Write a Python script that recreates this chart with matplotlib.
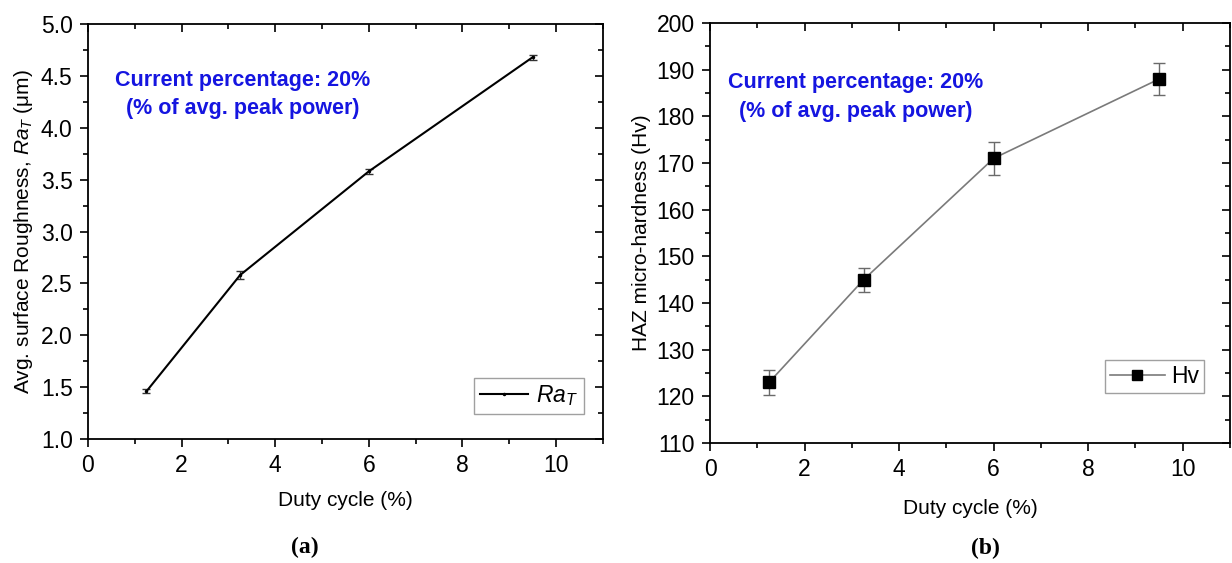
import matplotlib
matplotlib.use("Agg")
import matplotlib.pyplot as plt
from matplotlib.ticker import MultipleLocator, FormatStrFormatter
from matplotlib.lines import Line2D

plt.rcParams['font.family'] = ['Liberation Sans', 'DejaVu Sans']
plt.rcParams['mathtext.fontset'] = 'custom'
plt.rcParams['mathtext.rm'] = 'Liberation Sans'
plt.rcParams['mathtext.it'] = 'Liberation Sans:italic'

# data
duty = [1.25, 3.25, 6.0, 9.5]
ra = [1.46, 2.58, 3.58, 4.68]
ra_err = [0.02, 0.035, 0.025, 0.025]
hv = [123, 145, 171, 188]
hv_err = [2.7, 2.6, 3.5, 3.5]

note = "Current percentage: 20%\n(% of avg. peak power)"
BLUE = '#1515e0'


def mirror_ticks(ax, step, minor, which_side):
    # Origin-like inward mirror ticks on top / right
    if which_side == 'top':
        sec = ax.secondary_xaxis('top')
        axis = sec.xaxis
        sec.tick_params(which='both', direction='in', labeltop=False, width=1.2)
    else:
        sec = ax.secondary_yaxis('right')
        axis = sec.yaxis
        sec.tick_params(which='both', direction='in', labelright=False, width=1.2)
    axis.set_major_locator(MultipleLocator(step))
    axis.set_minor_locator(MultipleLocator(minor))
    sec.tick_params(which='major', length=6)
    sec.tick_params(which='minor', length=3.5)
    sec.spines[which_side].set_visible(False)


def style_axes(ax, ystep, yminor, xpad):
    ax.tick_params(which='both', direction='out', top=False, right=False,
                   labelsize=16.5, width=1.2, pad=5)
    ax.tick_params(which='major', length=6)
    ax.tick_params(which='minor', length=3.5)
    for sp in ax.spines.values():
        sp.set_linewidth(1.3)
    ax.xaxis.set_major_locator(MultipleLocator(2))
    ax.xaxis.set_minor_locator(MultipleLocator(1))
    ax.yaxis.set_major_locator(MultipleLocator(ystep))
    ax.yaxis.set_minor_locator(MultipleLocator(yminor))
    ax.set_xlim(0, 11)
    ax.set_xlabel('Duty cycle (%)', fontsize=15, labelpad=xpad)
    mirror_ticks(ax, 2, 1, 'top')
    mirror_ticks(ax, ystep, yminor, 'right')


fig = plt.figure(figsize=(12.32, 5.63), dpi=100)
ax1 = fig.add_axes([0.0714, 0.2202, 0.418, 0.7372])
ax2 = fig.add_axes([0.5763, 0.2131, 0.4221, 0.746])

# (a) roughness
ax1.errorbar(duty, ra, yerr=ra_err, color='black', lw=1.5, marker='.', ms=3,
             capsize=3, elinewidth=1, ecolor='#333333')
style_axes(ax1, 0.5, 0.25, 10)
ax1.set_ylim(1.0, 5.0)
ax1.yaxis.set_major_formatter(FormatStrFormatter('%.1f'))
ax1.set_ylabel(r'Avg. surface Roughness, $\mathit{Ra}_{T}$ (μm)', fontsize=15, labelpad=4)
ax1.text(0.30, 0.83, note, transform=ax1.transAxes, color=BLUE,
         fontsize=15.5, fontweight='bold', ha='center', va='center', linespacing=1.45)
h1 = Line2D([], [], color='black', lw=1.5, marker='.', ms=3)
leg1 = ax1.legend([h1], [r'$\mathit{Ra}_{T}$'], loc='lower right',
                  bbox_to_anchor=(0.963, 0.06), fontsize=16.5,
                  frameon=True, fancybox=False, edgecolor='#888888',
                  handlelength=2.1, handletextpad=0.35, borderpad=0.25,
                  borderaxespad=0)
leg1.get_frame().set_linewidth(1)

# (b) hardness
ax2.errorbar(duty, hv, yerr=hv_err, color='#7a7a7a', lw=1.2, marker='s', ms=8,
             mfc='black', mec='black', capsize=4, elinewidth=1, ecolor='#6a6a6a')
style_axes(ax2, 10, 5, 13)
ax2.set_ylim(110, 200)
ax2.set_ylabel('HAZ micro-hardness (Hv)', fontsize=15, labelpad=4)
ax2.text(0.28, 0.824, note, transform=ax2.transAxes, color=BLUE,
         fontsize=15.5, fontweight='bold', ha='center', va='center', linespacing=1.45)
h2 = Line2D([], [], color='#7a7a7a', lw=1.2, marker='s', ms=7,
            mfc='black', mec='black')
leg2 = ax2.legend([h2], ['Hv'], loc='lower right',
                  bbox_to_anchor=(0.95, 0.12), fontsize=16.5,
                  frameon=True, fancybox=False, edgecolor='#888888',
                  handlelength=2.4, handletextpad=0.3, borderpad=0.2,
                  borderaxespad=0)
leg2.get_frame().set_linewidth(1)

fig.text(0.2475, 0.018, '(a)', fontsize=17, fontweight='bold',
         family='Liberation Serif', ha='center')
fig.text(0.80, 0.016, '(b)', fontsize=17, fontweight='bold',
         family='Liberation Serif', ha='center')

fig.savefig('out.png', dpi=100, facecolor='white')
